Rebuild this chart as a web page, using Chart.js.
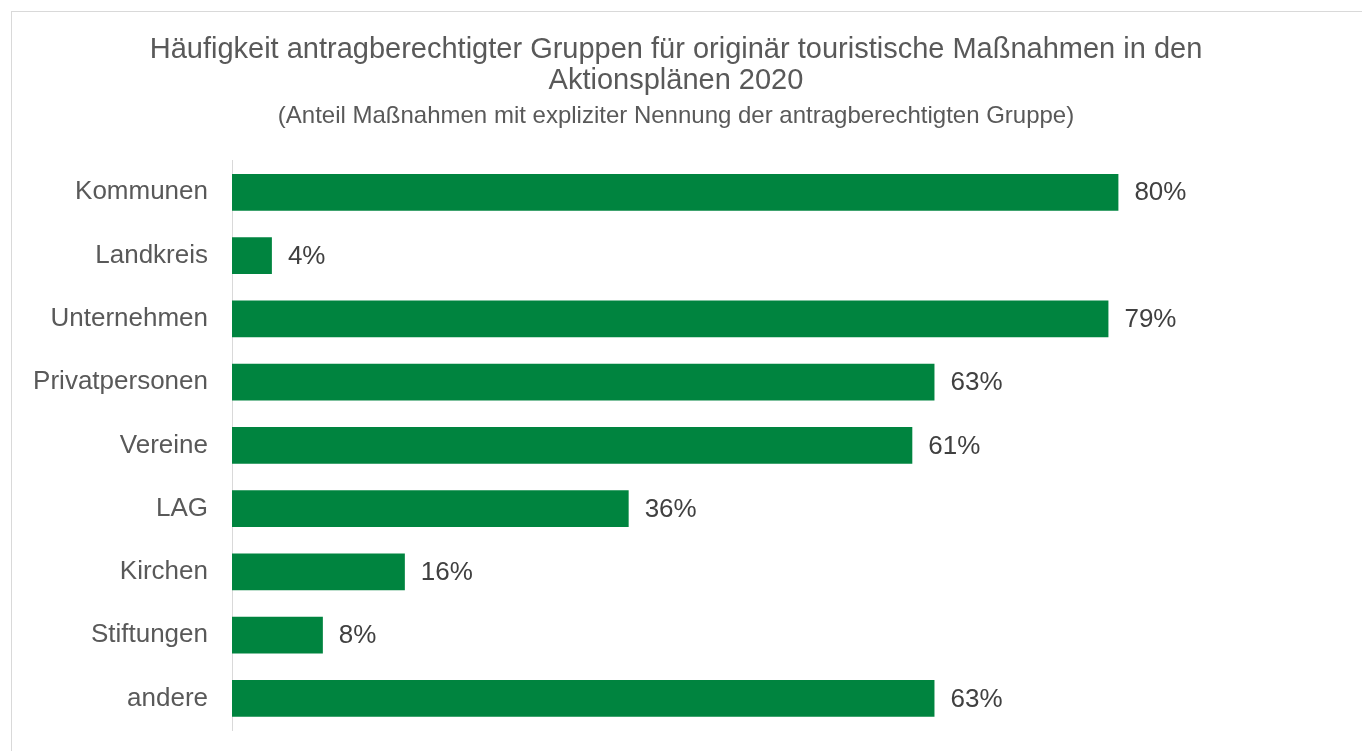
<!DOCTYPE html>
<html>
<head>
<meta charset="utf-8">
<script src="https://cdn.jsdelivr.net/npm/chart.js"></script>
<style>
  html, body { margin: 0; padding: 0; overflow: hidden; background: #fff; }
  #frame {
    position: absolute; left: 11px; top: 11px;
    width: 1400px; height: 800px;
    border: 1px solid #d9d9d9;
  }
  #box { position: absolute; left: 0; top: 0; width: 1358px; height: 740px; }
</style>
</head>
<body>
<div id="frame">
  <div id="box"><canvas id="gruppenChart"></canvas></div>
</div>
<script>
// Daten
var gruppen = ['Kommunen', 'Landkreis', 'Unternehmen', 'Privatpersonen', 'Vereine', 'LAG', 'Kirchen', 'Stiftungen', 'andere'];
var anteile = [80, 3.6, 79.1, 63.4, 61.4, 35.8, 15.6, 8.2, 63.4];

var schrift = '"Liberation Sans", Arial, sans-serif';

// Prozentwerte rechts neben die Balken schreiben
var valueLabels = {
    id: 'valueLabels',
    afterDatasetsDraw: function (chart) {
        var ctx = chart.ctx;
        var meta = chart.getDatasetMeta(0);
        ctx.save();
        ctx.font = '26px ' + schrift;
        ctx.fillStyle = '#404040';
        ctx.textAlign = 'left';
        ctx.textBaseline = 'middle';
        meta.data.forEach(function (bar, i) {
            ctx.fillText(Math.round(anteile[i]) + '%', bar.x + 16, bar.y + 1);
        });
        ctx.restore();
    }
};

var ctx = document.getElementById('gruppenChart').getContext('2d');
var chart = new Chart(ctx, {
    type: 'bar',
    data: {
        labels: gruppen,
        datasets: [{
            data: anteile,
            backgroundColor: '#00843f',
            borderWidth: 0,
            categoryPercentage: 1,
            barPercentage: 0.58
        }]
    },
    options: {
        indexAxis: 'y',
        responsive: true,
        maintainAspectRatio: false,
        animation: false,
        layout: {
            padding: { left: 0, right: 30, top: 0, bottom: 22 }
        },
        plugins: {
            legend: { display: false },
            tooltip: { enabled: false },
            title: {
                display: true,
                text: ['Häufigkeit antragberechtigter Gruppen für originär touristische Maßnahmen in den', 'Aktionsplänen 2020'],
                color: '#595959',
                font: { family: schrift, size: 29, weight: 'normal', lineHeight: 1.05 },
                padding: { top: 23, bottom: 6 }
            },
            subtitle: {
                display: true,
                text: '(Anteil Maßnahmen mit expliziter Nennung der antragberechtigten Gruppe)',
                color: '#595959',
                font: { family: schrift, size: 24, weight: 'normal', lineHeight: 1.2 },
                padding: { top: 0, bottom: 30 }
            }
        },
        scales: {
            x: {
                display: false,
                min: 0,
                max: 100
            },
            y: {
                grid: { display: false, drawTicks: false },
                border: { display: true, color: '#d9d9d9', width: 1 },
                ticks: {
                    color: '#595959',
                    padding: 24,
                    font: { family: schrift, size: 26 }
                },
                afterFit: function (scale) {
                    // feste Achsenbreite, kein Zusatzabstand oben/unten durch die Beschriftung
                    scale.width = 220;
                    scale.paddingTop = 0;
                    scale.paddingBottom = 0;
                }
            }
        }
    },
    plugins: [valueLabels]
});
</script>
</body>
</html>
